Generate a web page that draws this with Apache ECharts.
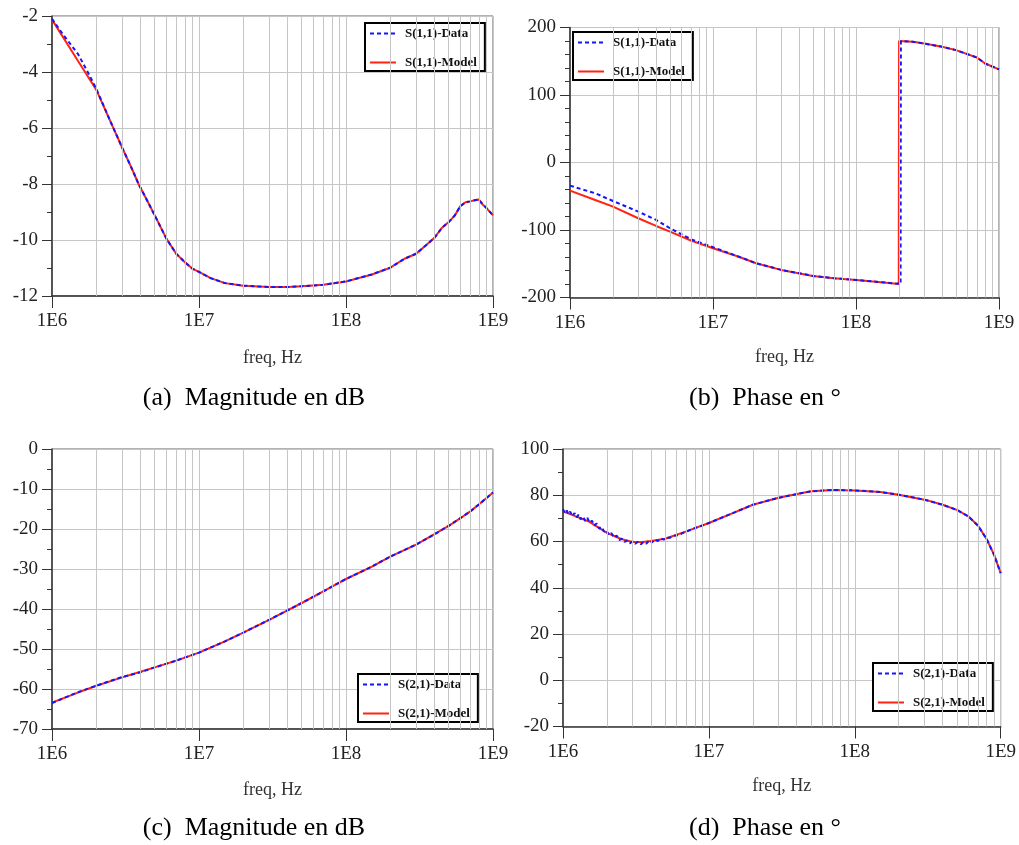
<!DOCTYPE html>
<html><head><meta charset="utf-8">
<script src="https://cdn.jsdelivr.net/npm/echarts@6/dist/echarts.min.js"></script>
<style>html,body{margin:0;padding:0;background:#fff}#c{width:1019px;height:845px}</style>
</head><body><div id="c"></div>
<script>
// ---------- data ----------
const xTickLabels = ['1E6', '1E7', '1E8', '1E9'];
const minorGridFreqs = [2e6,3e6,4e6,5e6,6e6,7e6,8e6,9e6, 2e7,3e7,4e7,5e7,6e7,7e7,8e7,9e7, 2e8,3e8,4e8,5e8,6e8,7e8,8e8,9e8];
const captions = ['(a)  Magnitude en dB', '(b)  Phase en °', '(c)  Magnitude en dB', '(d)  Phase en °'];
const legendNames11 = ['S(1,1)-Data', 'S(1,1)-Model'];
const legendNames21 = ['S(2,1)-Data', 'S(2,1)-Model'];

// (a) S(1,1) magnitude, dB
const freqA = [1e6,1.5e6,2e6,2.5e6,3e6,3.5e6,3.88e6,4.5e6,5e6,6e6,7e6,8e6,9e6,1e7,1.2e7,1.5e7,2e7,3e7,4e7,5e7,7e7,1e8,1.5e8,2e8,2.5e8,3e8,3.5e8,4e8,4.5e8,5e8,5.5e8,6e8,6.5e8,7e8,7.5e8,8e8,8.5e8,9e8,1e9];
const s11MagModel = [-2.13,-3.60,-4.63,-5.77,-6.70,-7.46,-8.0,-8.65,-9.12,-9.95,-10.49,-10.79,-11.02,-11.14,-11.36,-11.54,-11.63,-11.68,-11.68,-11.65,-11.6,-11.48,-11.23,-10.99,-10.67,-10.49,-10.19,-9.92,-9.56,-9.36,-9.12,-8.79,-8.65,-8.62,-8.58,-8.55,-8.73,-8.85,-9.12];
const freqAData = [1e6,1.2e6,1.5e6,1.8e6,2e6,2.5e6,3e6,3.5e6,3.88e6,4.5e6,5e6,6e6,7e6,8e6,9e6,1e7,1.2e7,1.5e7,2e7,3e7,4e7,5e7,7e7,1e8,1.5e8,2e8,2.5e8,3e8,3.5e8,4e8,4.5e8,5e8,5.5e8,6e8,6.5e8,7e8,7.5e8,8e8,8.5e8,9e8,1e9];
const s11MagData = [-2.1,-2.69,-3.35,-4.12,-4.6,-5.77,-6.70,-7.46,-8.0,-8.65,-9.12,-9.95,-10.49,-10.79,-11.02,-11.14,-11.36,-11.54,-11.63,-11.68,-11.68,-11.65,-11.6,-11.48,-11.23,-10.99,-10.67,-10.49,-10.19,-9.92,-9.56,-9.36,-9.12,-8.79,-8.65,-8.62,-8.58,-8.55,-8.73,-8.85,-9.12];

// (b) S(1,1) phase, degrees
const freqB = [1e6,1.5e6,2e6,3e6,4e6,5e6,7e6,1e7,1.5e7,2e7,3e7,5e7,7e7,1e8,1.5e8,1.99e8,2.0e8,2.5e8,3e8,4e8,5e8,7e8,8e8,1e9];
const s11PhaseModel = [-41.7,-55.5,-65.4,-82.6,-94,-102.3,-115.6,-127,-139.3,-149.2,-159.1,-168,-171.4,-173.9,-177.3,-180,180,178.8,176.3,171.4,166.5,155.6,146.7,137.9];
const freqBData = [1e6,1.5e6,2e6,3e6,4e6,5e6,7e6,1e7,1.5e7,2e7,3e7,5e7,7e7,1e8,1.5e8,2.05e8,2.06e8,2.5e8,3e8,4e8,5e8,7e8,8e8,1e9];
const s11PhaseData = [-34.3,-45.6,-57,-72.8,-85.1,-97.4,-113.6,-125.5,-139.3,-149.2,-159.1,-168,-171.4,-173.9,-177.3,-180,180,178.8,176.3,171.4,166.5,155.6,146.7,137.9];

// (c) S(2,1) magnitude, dB
const freqC = [1e6,1.5e6,2e6,3e6,4e6,5e6,7e6,1e7,1.5e7,2e7,3e7,5e7,7e7,1e8,1.5e8,2e8,3e8,4e8,5e8,6e8,7e8,8e8,9e8,1e9];
const s21MagModel = [-63.4,-60.9,-59.2,-57.1,-55.7,-54.6,-52.9,-50.9,-48.1,-45.9,-42.7,-38.5,-35.6,-32.5,-29.4,-26.9,-23.9,-21.3,-19.2,-17.3,-15.6,-13.9,-12.3,-10.85];
const s21MagData = [-63.5,-60.8,-59.2,-57.0,-55.8,-54.6,-52.9,-50.9,-48.1,-45.9,-42.7,-38.5,-35.6,-32.5,-29.4,-26.9,-23.9,-21.3,-19.2,-17.3,-15.6,-13.9,-12.3,-10.85];

// (d) S(2,1) phase, degrees
const freqD = [1e6,1.5e6,2e6,2.5e6,3e6,3.5e6,4e6,5e6,7e6,1e7,1.5e7,2e7,3e7,5e7,7e7,1e8,1.5e8,2e8,3e8,4e8,5e8,6e8,7e8,8e8,9e8,1e9];
const s21PhaseModel = [73.0,68.7,63.7,61.1,59.8,59.8,60.2,61.2,64.4,68.0,72.6,75.9,78.9,81.7,82.3,82.1,81.4,80.2,78.1,75.9,73.7,70.9,66.8,61.1,54.3,46.3];
const freqDData = [1.00e6,1.03e6,1.06e6,1.09e6,1.12e6,1.16e6,1.2e6,1.24e6,1.28e6,1.32e6,1.37e6,1.42e6,1.47e6,1.52e6,1.58e6,1.64e6,1.7e6,1.77e6,1.84e6,1.91e6,1.98e6,2.06e6,2.15e6,2.24e6,2.33e6,2.43e6,2.53e6,2.64e6,2.75e6,2.87e6,3.0e6,3.13e6,3.27e6,3.42e6,3.57e6,3.73e6,3.9e6,4.08e6,4.27e6,4.47e6,4.68e6,4.9e6,5.13e6,5.4e6,5.7e6,6e6,6.5e6,7e6,8e6,9e6,1e7,1.5e7,2e7,3e7,5e7,7e7,1e8,1.5e8,2e8,3e8,4e8,5e8,6e8,7e8,8e8,9e8,1e9];
const s21PhaseData = [74.0,72.2,73.4,71.8,72.9,71.0,72.3,70.4,71.6,69.6,70.8,68.9,70.2,68.1,69.0,66.9,67.8,65.6,66.3,64.3,64.9,62.8,63.6,61.7,62.6,60.6,61.2,59.8,60.4,59.2,60.1,59.0,59.9,58.8,59.9,59.1,60.6,59.6,60.9,60.2,61.4,60.8,61.7,61.6,62.5,62.6,63.4,64.3,65.8,66.9,68.0,72.6,75.9,78.9,81.7,82.3,82.1,81.4,80.2,78.1,75.9,73.7,70.9,66.8,61.1,54.3,46.3];

// ---------- chart ----------
const SERIF = '"Liberation Serif", "DejaVu Serif", serif';
const BLUE = '#1414ff', RED = '#ff2410', GRIDC = '#c6c6c6', AXC = '#333';
const pairs = (f, v) => f.map((x, i) => [x, v[i]]);

const grids = [
  {left: 52, top: 16, width: 441, height: 280},
  {left: 570, top: 27.5, width: 429, height: 270},
  {left: 52, top: 449, width: 441, height: 280},
  {left: 563, top: 449, width: 438.5, height: 277.5}
];
const yCfg = [
  {min: -12, max: -2, interval: 2, minor: 2},
  {min: -200, max: 200, interval: 100, minor: 5},
  {min: -70, max: 0, interval: 10, minor: 2},
  {min: -20, max: 100, interval: 20, minor: 2}
];
const nameGaps = [53, 51, 52, 51];

const xAxes = grids.map((g, i) => ({
  type: 'log', logBase: 10, gridIndex: i, min: 1e6, max: 1e9,
  axisLine: {show: true, onZero: false, lineStyle: {color: AXC, width: 1.5}},
  axisTick: {show: true, length: 12, lineStyle: {color: AXC}},
  axisLabel: {margin: 16, color: '#222', fontFamily: SERIF, fontSize: 19,
    formatter: v => xTickLabels[Math.round(Math.log10(v)) - 6]},
  splitLine: {show: true, lineStyle: {color: GRIDC, width: 1}},
  name: 'freq, Hz', nameLocation: 'middle', nameGap: nameGaps[i],
  nameTextStyle: {fontFamily: SERIF, fontSize: 18, color: '#333'}
}));
const yAxes = yCfg.map((c, i) => ({
  type: 'value', gridIndex: i, min: c.min, max: c.max, interval: c.interval,
  axisLine: {show: true, onZero: false, lineStyle: {color: AXC, width: 1.5}},
  axisTick: {show: true, length: 10, lineStyle: {color: AXC}},
  minorTick: {show: true, splitNumber: c.minor, length: 5, lineStyle: {color: AXC}},
  axisLabel: {margin: 14, color: '#222', fontFamily: SERIF, fontSize: 19},
  splitLine: {show: true, lineStyle: {color: GRIDC, width: 1}}
}));

const series = [];
grids.forEach((g, i) => {
  series.push({
    type: 'line', name: 'grid' + i, xAxisIndex: i, yAxisIndex: i, data: [], z: 1, silent: true,
    markLine: {silent: true, symbol: ['none', 'none'], label: {show: false},
      lineStyle: {color: GRIDC, width: 1, type: 'solid'},
      emphasis: {disabled: true},
      data: minorGridFreqs.map(f => ({xAxis: f}))}
  });
});
function addPair(i, names, fM, vM, fD, vD) {
  series.push({type: 'line', name: names[1], xAxisIndex: i, yAxisIndex: i, z: 3,
    data: pairs(fM, vM), showSymbol: false, symbol: 'none',
    lineStyle: {color: RED, width: 2}, itemStyle: {color: RED}});
  series.push({type: 'line', name: names[0], xAxisIndex: i, yAxisIndex: i, z: 4,
    data: pairs(fD, vD), showSymbol: false, symbol: 'none',
    lineStyle: {color: BLUE, width: 2, type: [4, 3]}, itemStyle: {color: BLUE}});
}
addPair(0, legendNames11, freqA, s11MagModel, freqAData, s11MagData);
addPair(1, legendNames11, freqB, s11PhaseModel, freqBData, s11PhaseData);
addPair(2, legendNames21, freqC, s21MagModel, freqC, s21MagData);
addPair(3, legendNames21, freqD, s21PhaseModel, freqDData, s21PhaseData);

const legendPos = [[365, 23, legendNames11], [573, 32, legendNames11], [358, 674, legendNames21], [873, 663, legendNames21]];
const legends = legendPos.map(p => ({
  left: p[0], top: p[1], data: p[2], orient: 'vertical', itemWidth: 26, itemHeight: 14, itemGap: 16,
  padding: [4, 8, 2, 4], borderColor: '#000', borderWidth: 2, backgroundColor: '#fff', borderRadius: 0,
  selectedMode: false,
  itemStyle: {opacity: 0, borderWidth: 0},
  textStyle: {fontFamily: SERIF, fontWeight: 'bold', fontSize: 13, color: '#111', padding: [0, 0, 0, 4]}
}));

const capPos = [[254, 398], [765, 398], [254, 828], [765, 828]];
const graphics = capPos.map((p, i) => ({
  type: 'text', x: p[0], y: p[1], silent: true,
  style: {text: captions[i], textAlign: 'center', textVerticalAlign: 'middle',
    font: '26px ' + SERIF, fill: '#000'}
}));

const chart = echarts.init(document.getElementById('c'), null, {renderer: 'canvas'});
chart.setOption({
  animation: false,
  backgroundColor: '#fff',
  grid: grids.map(g => Object.assign({show: true, borderColor: '#666', borderWidth: 1, backgroundColor: 'transparent'}, g)),
  xAxis: xAxes, yAxis: yAxes, series: series, legend: legends, graphic: graphics
});
</script></body></html>
